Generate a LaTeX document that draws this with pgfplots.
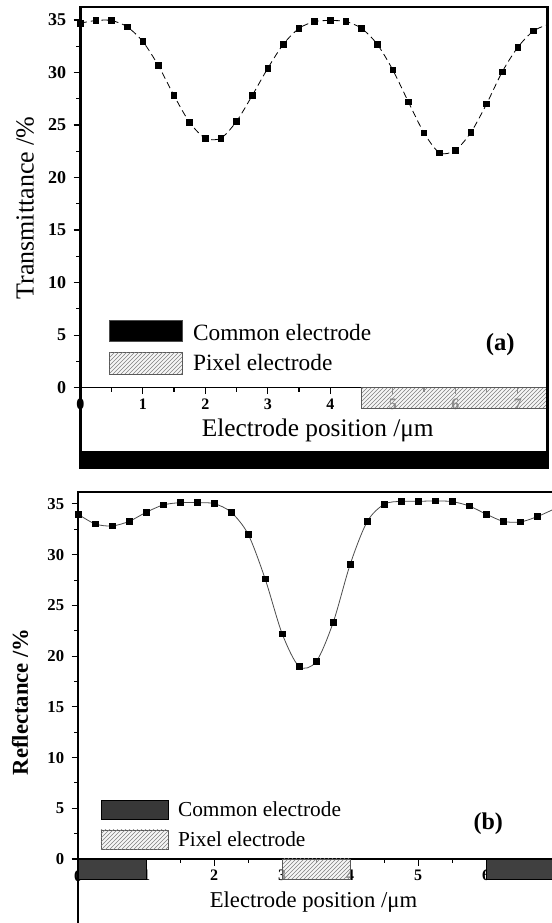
\documentclass[border=0pt]{standalone}
\usepackage{fontspec}
\setmainfont{Liberation Serif}
\usepackage{pgfplots}
\usepackage{pgfplotstable}
\pgfplotsset{compat=1.18}
\usetikzlibrary{patterns}

\newcommand\fs[1]{\fontsize{#1}{#1}\selectfont}

% Transmittance across the cell, 0.25 um steps
\pgfplotstableread{
x     y
0.00  34.70
0.25  34.95
0.50  34.95
0.75  34.35
1.00  32.95
1.25  30.65
1.50  27.80
1.75  25.25
2.00  23.75
2.25  23.75
2.50  25.35
2.75  27.80
3.00  30.40
3.25  32.70
3.50  34.20
3.75  34.85
4.00  34.95
4.25  34.85
4.50  34.20
4.75  32.70
5.00  30.25
5.25  27.20
5.50  24.25
5.75  22.35
6.00  22.60
6.25  24.30
6.50  27.00
6.75  30.05
7.00  32.40
7.25  33.95
7.50  34.60
}\transdata

% Reflectance across the cell, 0.25 um steps
\pgfplotstableread{
x     y
0.00  33.98
0.25  33.03
0.50  32.83
0.75  33.29
1.00  34.18
1.25  34.90
1.50  35.13
1.75  35.13
2.00  35.03
2.25  34.18
2.50  32.00
2.75  27.60
3.00  22.20
3.25  18.97
3.50  19.46
3.75  23.32
4.00  29.05
4.25  33.26
4.50  34.97
4.75  35.26
5.00  35.26
5.25  35.30
5.50  35.23
5.75  34.80
6.00  34.00
6.25  33.29
6.50  33.22
6.75  33.75
7.00  34.50
}\refldata

\tikzset{
  pixfill/.style={draw=black!65, line width=0.6pt, fill=gray!12, fill opacity=0.6,
    postaction={pattern=north east lines, pattern color=black!50}},
}
\pgfplotsset{
  elec/.style={
    scale only axis, clip mode=individual, set layers,
    axis x line=middle, axis y line=left,
    axis line style={-, line width=0.9pt},
    every inner x axis line/.append style={-},
    every outer y axis line/.append style={-},
    hide obscured x ticks=false,
    /pgf/number format/assume math mode=true,
    ytick={0,5,...,35}, minor ytick={2.5,7.5,...,32.5},
    ytick align=outside, xtick align=outside,
    major tick length=5pt, minor tick length=3pt,
    tick style={black, line width=0.8pt},
  },
}

\begin{document}
\begin{tikzpicture}

% (a) transmittance
\begin{axis}[elec,
  at={(60.2pt,341.25pt)}, anchor=south west,
  width=350.25pt, height=345.75pt,
  xmin=0, xmax=7.472, ymin=-7.66, ymax=36.24,
  xtick={0,...,7}, minor xtick={0.5,1.5,...,6.5},
  xticklabel style={font=\bfseries\fs{12pt}},
  yticklabel style={font=\bfseries\fs{13.5pt}, xshift=-2pt},
]
\addplot[black, line width=0.6pt, dash pattern=on 5pt off 3pt, smooth,
  mark=square*, mark size=2.1pt, mark options={solid}] table {\transdata};
% pixel electrode
\addplot[pixfill] coordinates {(4.5,0) (7.6,0) (7.6,-2.03) (4.5,-2.03)} -- cycle;
% common electrode
\addplot[fill=black, draw=none] coordinates {(-0.1,-6.03) (7.6,-6.03) (7.6,-7.8) (-0.1,-7.8)} -- cycle;
\draw[line width=2.2pt] (rel axis cs:0,0) rectangle (rel axis cs:1,1);
% key
\draw[fill=black, draw=black!70] (axis cs:0.47,4.40) rectangle (axis cs:1.63,6.45);
\draw[pixfill] (axis cs:0.47,1.30) rectangle (axis cs:1.63,3.33);
\node[anchor=west, font=\fs{17.5pt}, inner sep=0pt] at (axis cs:1.80,5.24) {Common electrode};
\node[anchor=west, font=\fs{17.5pt}, inner sep=0pt] at (axis cs:1.80,2.38) {Pixel electrode};
\node[font=\bfseries\fs{18.5pt}] at (axis cs:6.72,4.07) {(a)};
\node[font=\fs{19pt}] at (axis cs:3.80,-4.10) {Electrode position /μm};
\node[rotate=90, font=\fs{19.5pt}] at (axis cs:-0.88,17.1) {Transmittance /\%};
\end{axis}

% (b) reflectance
\begin{axis}[elec,
  at={(58.65pt,0pt)}, anchor=south west,
  width=355.35pt, height=323.25pt,
  xmin=0, xmax=6.968, ymin=-6.31, ymax=36.18,
  xtick={0,...,6}, minor xtick={0.5,1.5,...,6.5},
  xticklabel style={font=\bfseries\fs{12pt}},
  yticklabel style={font=\bfseries\fs{12.5pt}, xshift=-2pt},
]
\addplot[black!70, line width=0.6pt, smooth,
  mark=square*, mark size=2.1pt, mark options={black}] table {\refldata};
% common electrodes
\addplot[fill=black!75, draw=black, line width=0.8pt] coordinates {(0,0) (1,0) (1,-2.0) (0,-2.0)} -- cycle;
\addplot[fill=black!75, draw=black, line width=0.8pt] coordinates {(6,0) (7.3,0) (7.3,-2.0) (6,-2.0)} -- cycle;
% pixel electrode
\addplot[pixfill] coordinates {(3,0) (4,0) (4,-2.0) (3,-2.0)} -- cycle;
\draw[line width=1.6pt] (rel axis cs:0,0) -- (rel axis cs:0,1) -- (rel axis cs:1,1);
% key
\draw[fill=black!78, draw=black, line width=0.6pt] (axis cs:0.335,3.92) rectangle (axis cs:1.325,5.82);
\draw[pixfill] (axis cs:0.335,0.96) rectangle (axis cs:1.325,2.86);
\node[anchor=west, font=\fs{16pt}, inner sep=0pt] at (axis cs:1.465,4.86) {Common electrode};
\node[anchor=west, font=\fs{16pt}, inner sep=0pt] at (axis cs:1.465,1.97) {Pixel electrode};
\node[font=\bfseries\fs{18pt}] at (axis cs:6.03,3.52) {(b)};
\node[font=\fs{17pt}] at (axis cs:3.46,-4.27) {Electrode position /μm};
\node[rotate=90, font=\bfseries\fs{17pt}] at (axis cs:-0.856,15.5) {Reflectance /\%};
\end{axis}

% page is exactly the figure area
\pgfresetboundingbox
\useasboundingbox (0,0) rectangle (414pt,692.25pt);
\end{tikzpicture}
\end{document}
